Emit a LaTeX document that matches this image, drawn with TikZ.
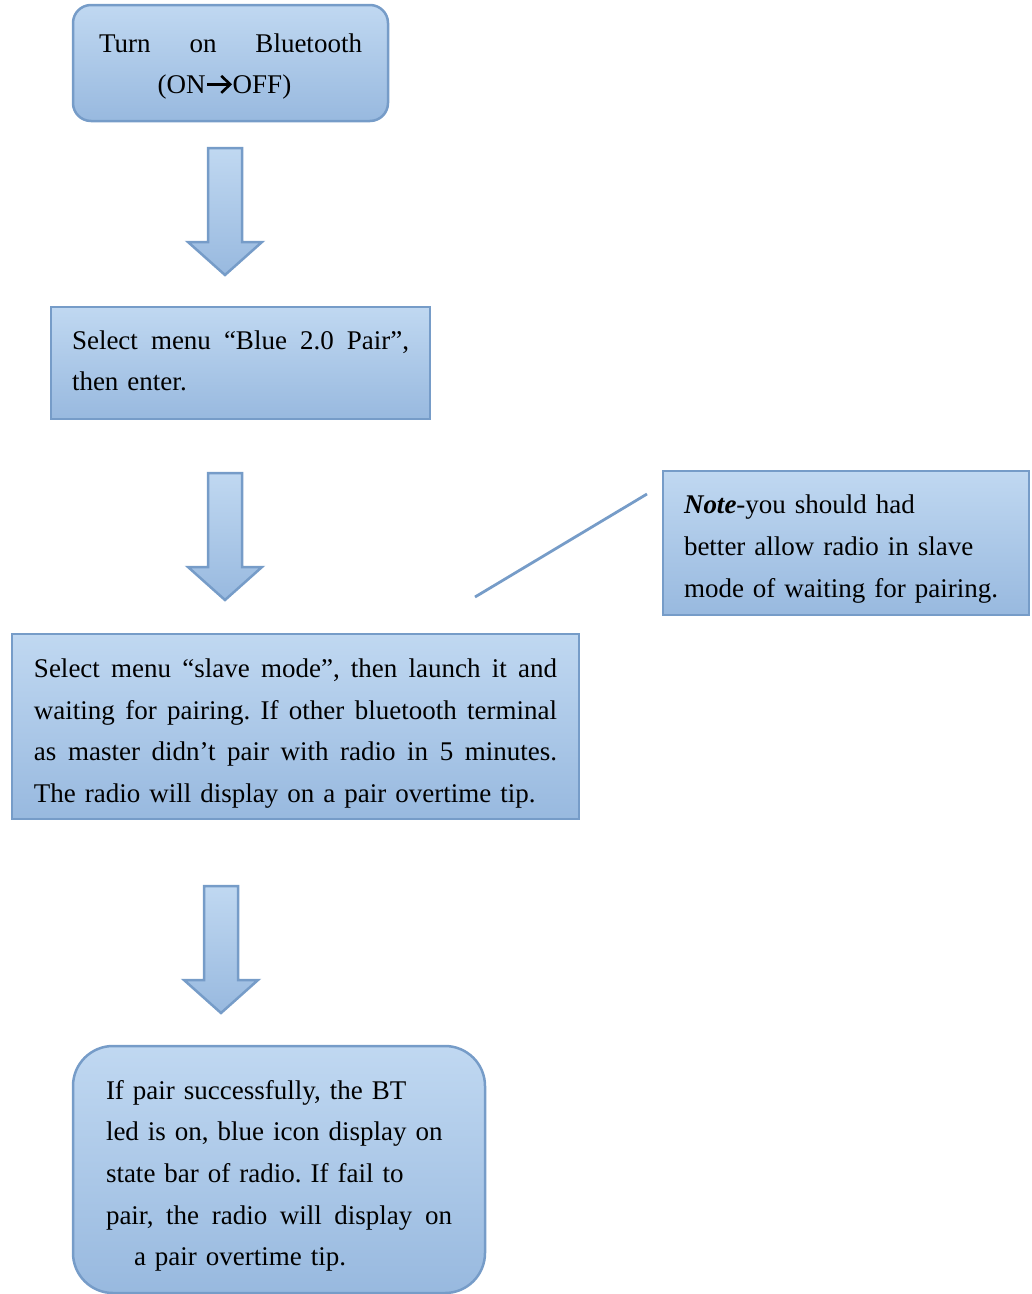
\documentclass[tikz,border=0pt]{standalone}
\usepackage{fontspec}
\setmainfont{Liberation Serif}
\frenchspacing
\newcommand\justline[2]{\leavevmode\hbox to #1{\spaceskip=0pt\xspaceskip=0pt #2}}
\newcommand\hs[1]{\leavevmode\rule{0pt}{#1pt}}
\newcommand\ds[1]{\rule[-#1pt]{0pt}{#1pt}}
\newsavebox\onoffarrow
\sbox\onoffarrow{\tikz[baseline=0pt, x=1pt, y=1pt]{%
  \path (0,0) rectangle (27,19);
  \draw[line width=2.6pt] (1.5,9.5) -- (24,9.5);
  \draw[line width=2.6pt, line join=miter, miter limit=4] (15.5,1) -- (24.5,9.5) -- (15.5,18);}}
\definecolor{boxtop}{RGB}{192,216,241}
\definecolor{boxbot}{RGB}{152,185,223}
\definecolor{boxline}{RGB}{118,156,200}
\tikzset{
  flowbox/.style={draw=boxline, line width=2.5pt, top color=boxtop, bottom color=boxbot,
    inner ysep=0pt, align=left, font=\fontsize{27}{41.7}\selectfont},
  arrowshape/.style={draw=boxline, line width=2.5pt, top color=boxtop, bottom color=boxbot},
  blockarrow/.pic={\path[arrowshape] (-17,0) -- (17,0) -- (17,94) -- (37,94) -- (0,127)
     -- (-37,94) -- (-17,94) -- cycle;}
}
\begin{document}
\begin{tikzpicture}[x=1pt,y=-1pt]
\useasboundingbox (0,0) rectangle (1032,1294);

\node[flowbox, rounded corners=18pt, inner xsep=26pt, text width=263pt, minimum height=116pt]
  (b1) at (230.5,63)
  {\hs{28}\justline{263pt}{Turn on Bluetooth}\\
   \leavevmode\hbox to 263pt{\hfil(ON\usebox\onoffarrow OFF)\ds{8}\hfil\hspace*{12pt}}};

\node[flowbox, inner xsep=21pt, text width=337pt, minimum height=112pt]
  (b2) at (240.5,363)
  {\hs{24}\justline{337pt}{Select menu “Blue 2.0 Pair”,}\\
   then enter.\ds{10}};

\node[flowbox, inner xsep=21pt, text width=324pt, minimum height=144pt]
  (note) at (846,543)
  {\hs{32}\textbf{\textit{Note}}-you should had\\
   better allow radio in slave\\
   mode of waiting for pairing.\ds{7}};

\node[flowbox, inner xsep=22pt, text width=523pt, minimum height=185pt]
  (b3) at (295.5,726.5)
  {\hs{33}\justline{523pt}{Select menu “slave mode”, then launch it and}\\
   \justline{523pt}{waiting for pairing. If other bluetooth terminal}\\
   \justline{523pt}{as master didn’t pair with radio in 5 minutes.}\\
   The radio will display on a pair overtime tip.\ds{6}};

\node[flowbox, rounded corners=40pt, inner xsep=33pt, text width=346pt, minimum height=247pt]
  (b4) at (279,1169.5)
  {\hs{33}If pair successfully, the BT\\
   led is on, blue icon display on\\
   state bar of radio. If fail to\\
   \justline{346pt}{pair, the radio will display on}\\
   \hspace*{28pt}a pair overtime tip.\ds{7}};

\coordinate (a1) at (225,148);
\coordinate (a2) at (225,473);
\coordinate (a3) at (221,886);
\pic at (a1) {blockarrow};
\pic at (a2) {blockarrow};
\pic at (a3) {blockarrow};

\coordinate (callout) at (475,597);
\coordinate (calloutend) at (647,494);
\draw[boxline, line width=2.8pt] (callout) -- (calloutend);
\end{tikzpicture}
\end{document}
